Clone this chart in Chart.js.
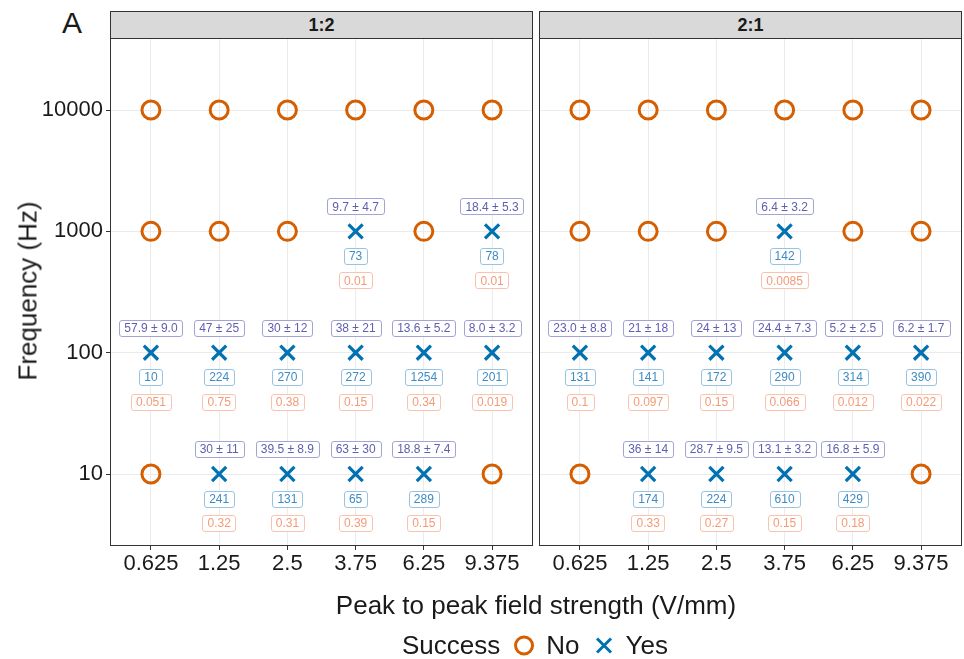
<!DOCTYPE html>
<html>
<head>
<meta charset="utf-8">
<script src="https://cdn.jsdelivr.net/npm/chart.js@4/dist/chart.umd.min.js"></script>
<style>
  body { margin: 0; background: #fff; font-family: "Liberation Sans", Arial, sans-serif; color: #1a1a1a; }
  #wrap { position: relative; width: 964px; height: 659px; overflow: hidden; }
  canvas { position: absolute; top: 38px; }
  .strip { position: absolute; top: 11px; height: 28px; width: 423px; box-sizing: border-box;
    background: #d9d9d9; border: 1px solid #333; font-weight: bold; font-size: 18px;
    display: flex; align-items: center; justify-content: center; }
  .tag { position: absolute; left: 62px; top: 6px; font-size: 30px; }
  .ytitle { position: absolute; left: 28px; top: 291px; font-size: 26px; white-space: nowrap;
    transform: translate(-50%, -50%) rotate(-90deg); }
  .xtitle { position: absolute; left: 536px; top: 605px; font-size: 26px; white-space: nowrap;
    transform: translate(-50%, -50%); }
  .legend { position: absolute; left: 535px; top: 645px; transform: translate(-50%, -50%);
    display: flex; align-items: center; font-size: 26px; white-space: nowrap; }
  .legend svg { margin: 0 12px 0 14px; }
</style>
</head>
<body>
<div id="wrap">
  <div class="tag">A</div>
  <div class="strip" style="left:110px">1:2</div>
  <div class="strip" style="left:539px">2:1</div>
  <canvas id="panel12" width="533" height="560" style="left:0"></canvas>
  <canvas id="panel21" width="426" height="560" style="left:538px"></canvas>
  <div class="ytitle">Frequency (Hz)</div>
  <div class="xtitle">Peak to peak field strength (V/mm)</div>
  <div class="legend">
    <span>Success</span>
    <svg width="20" height="22"><circle cx="10" cy="11" r="8.5" fill="none" stroke="#D55E00" stroke-width="3"/></svg>
    <span>No</span>
    <svg width="20" height="22"><path d="M3 4 L17 18 M17 4 L3 18" stroke="#0072B2" stroke-width="3"/></svg>
    <span>Yes</span>
  </div>
</div>
<script>
const categories = ['0.625', '1.25', '2.5', '3.75', '6.25', '9.375'];
const frequencies = [10, 100, 1000, 10000];

// rows follow frequencies (10, 100, 1000, 10000), columns follow categories
const success12 = [
  ['No', 'Yes', 'Yes', 'Yes', 'Yes', 'No'],
  ['Yes', 'Yes', 'Yes', 'Yes', 'Yes', 'Yes'],
  ['No', 'No', 'No', 'Yes', 'No', 'Yes'],
  ['No', 'No', 'No', 'No', 'No', 'No']
];
const meanSd12 = [
  [null, '30 ± 11', '39.5 ± 8.9', '63 ± 30', '18.8 ± 7.4', null],
  ['57.9 ± 9.0', '47 ± 25', '30 ± 12', '38 ± 21', '13.6 ± 5.2', '8.0 ± 3.2'],
  [null, null, null, '9.7 ± 4.7', null, '18.4 ± 5.3'],
  [null, null, null, null, null, null]
];
const count12 = [
  [null, 241, 131, 65, 289, null],
  [10, 224, 270, 272, 1254, 201],
  [null, null, null, 73, null, 78],
  [null, null, null, null, null, null]
];
const pval12 = [
  [null, '0.32', '0.31', '0.39', '0.15', null],
  ['0.051', '0.75', '0.38', '0.15', '0.34', '0.019'],
  [null, null, null, '0.01', null, '0.01'],
  [null, null, null, null, null, null]
];

const success21 = [
  ['No', 'Yes', 'Yes', 'Yes', 'Yes', 'No'],
  ['Yes', 'Yes', 'Yes', 'Yes', 'Yes', 'Yes'],
  ['No', 'No', 'No', 'Yes', 'No', 'No'],
  ['No', 'No', 'No', 'No', 'No', 'No']
];
const meanSd21 = [
  [null, '36 ± 14', '28.7 ± 9.5', '13.1 ± 3.2', '16.8 ± 5.9', null],
  ['23.0 ± 8.8', '21 ± 18', '24 ± 13', '24.4 ± 7.3', '5.2 ± 2.5', '6.2 ± 1.7'],
  [null, null, null, '6.4 ± 3.2', null, null],
  [null, null, null, null, null, null]
];
const count21 = [
  [null, 174, 224, 610, 429, null],
  [131, 141, 172, 290, 314, 390],
  [null, null, null, 142, null, null],
  [null, null, null, null, null, null]
];
const pval21 = [
  [null, '0.33', '0.27', '0.15', '0.18', null],
  ['0.1', '0.097', '0.15', '0.066', '0.012', '0.022'],
  [null, null, null, '0.0085', null, null],
  [null, null, null, null, null, null]
];

Chart.defaults.font.family = '"Liberation Sans", Arial, sans-serif';

const ORANGE = '#D55E00';
const BLUE = '#0072B2';

// label box styles: text colour, border colour, offset from the point
const boxStyles = [
  { text: '#5f5fae', border: '#a3a3d6', dy: -25 },
  { text: '#3d8bc3', border: '#98c4e2', dy: 24.5 },
  { text: '#f49a78', border: '#fbc3ad', dy: 49 }
];

function drawBox(ctx, txt, x, y, st) {
  ctx.font = '12px "Liberation Sans", Arial, sans-serif';
  const w = ctx.measureText(txt).width + 10;
  const h = 16;
  ctx.fillStyle = '#fff';
  ctx.strokeStyle = st.border;
  ctx.lineWidth = 1;
  ctx.beginPath();
  ctx.roundRect(Math.round(x - w / 2) + 0.5, Math.round(y - h / 2) + 0.5, Math.round(w), h, 2.5);
  ctx.fill();
  ctx.stroke();
  ctx.fillStyle = st.text;
  ctx.textAlign = 'center';
  ctx.textBaseline = 'middle';
  ctx.fillText(txt, x, y + 1);
}

function makePanel(id, success, meanSd, counts, pvals, showY) {
  const noPts = [], yesPts = [];
  frequencies.forEach((f, r) => {
    categories.forEach((c, i) => {
      (success[r][i] === 'Yes' ? yesPts : noPts).push({ x: i, y: f });
    });
  });

  const labelPlugin = {
    id: 'labels',
    afterDatasetsDraw(chart) {
      const { ctx, scales: { x, y } } = chart;
      ctx.save();
      frequencies.forEach((f, r) => {
        categories.forEach((c, i) => {
          const px = x.getPixelForValue(i);
          const py = y.getPixelForValue(f);
          const vals = [meanSd[r][i], counts[r][i], pvals[r][i]];
          vals.forEach((v, k) => {
            if (v !== null) drawBox(ctx, String(v), px, py + boxStyles[k].dy, boxStyles[k]);
          });
        });
      });
      // panel border
      const a = chart.chartArea;
      ctx.strokeStyle = '#333';
      ctx.lineWidth = 1;
      ctx.strokeRect(a.left + 0.5, a.top + 0.5, a.right - a.left - 1, a.bottom - a.top - 1);
      ctx.restore();
    }
  };

  return new Chart(document.getElementById(id), {
    type: 'scatter',
    data: {
      datasets: [
        { label: 'No', data: noPts, pointStyle: 'circle', pointRadius: 9, pointHoverRadius: 9,
          borderColor: ORANGE, backgroundColor: 'rgba(0,0,0,0)', pointBorderWidth: 3 },
        { label: 'Yes', data: yesPts, pointStyle: 'crossRot', pointRadius: 10, pointHoverRadius: 10,
          borderColor: BLUE, backgroundColor: BLUE, pointBorderWidth: 3.2 }
      ]
    },
    options: {
      responsive: false,
      animation: false,
      layout: {
        autoPadding: false,
        padding: showY ? { left: 0, right: 0, top: 0, bottom: 0 } : { left: 1, right: 2, top: 0, bottom: 0 }
      },
      plugins: { legend: { display: false }, tooltip: { enabled: false } },
      scales: {
        x: {
          type: 'linear', min: -0.6, max: 5.6,
          afterBuildTicks: (axis) => { axis.ticks = categories.map((c, i) => ({ value: i })); },
          afterFit: (axis) => { axis.height = 52; axis.paddingLeft = 0; axis.paddingRight = 0; },
          ticks: { callback: (v) => categories[v], font: { size: 22 }, color: '#1a1a1a',
            padding: 1, maxRotation: 0, autoSkip: false },
          grid: { color: '#ebebeb', lineWidth: 1, tickColor: '#333', tickLength: 4 },
          border: { display: false }
        },
        y: {
          type: 'logarithmic', min: 2.551, max: 39220,
          afterBuildTicks: (axis) => { axis.ticks = frequencies.map(f => ({ value: f })); },
          afterFit: (axis) => { axis.width = showY ? 110 : 0; axis.paddingTop = 0; axis.paddingBottom = 0; },
          ticks: { display: showY, callback: (v) => String(v), font: { size: 22 }, color: '#1a1a1a', padding: 3 },
          grid: { color: '#ebebeb', lineWidth: 1, tickColor: '#333', tickLength: 4, drawTicks: showY },
          border: { display: false }
        }
      }
    },
    plugins: [labelPlugin]
  });
}

makePanel('panel12', success12, meanSd12, count12, pval12, true);
makePanel('panel21', success21, meanSd21, count21, pval21, false);
</script>
</body>
</html>
